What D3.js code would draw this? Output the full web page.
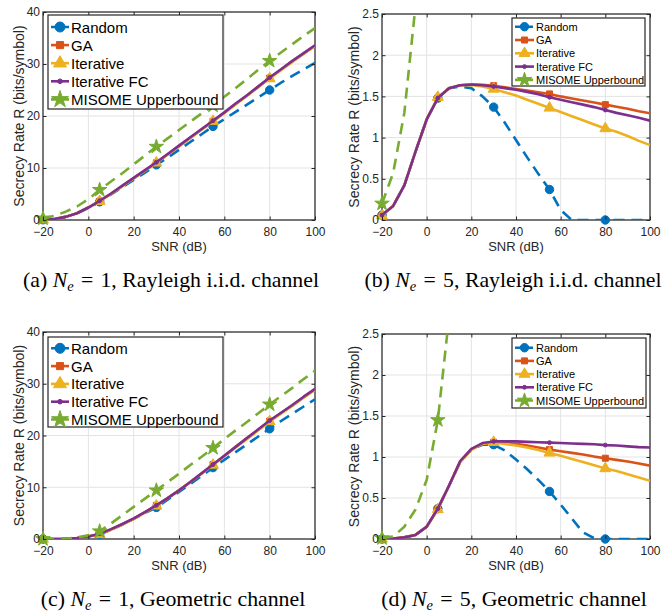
<!DOCTYPE html>
<html>
<head>
<meta charset="utf-8">
<script src="https://cdn.jsdelivr.net/npm/d3@7"></script>
<style>
  body { margin: 0; background: #fff; }
  svg { display: block; }
</style>
</head>
<body>
<div id="chart"></div>
<script>
// SNR sample points (dB)
const snr = [-20,-15,-10,-5,0,5,10,15,20,25,30,35,40,45,50,55,60,65,70,75,80,85,90,95,100];

// (a) Ne = 1, Rayleigh i.i.d.
const aRandom = [0.05,0.2,0.6,1.3,2.3,3.5,4.9,6.3,7.7,9.1,10.6,12.0,13.5,15.0,16.5,18.0,19.4,20.8,22.2,23.6,25.0,26.4,27.7,29.0,30.2];
const aGA     = [0.05,0.2,0.6,1.3,2.4,3.6,5.0,6.5,8.0,9.5,11.0,12.6,14.2,15.8,17.4,19.0,20.6,22.3,23.9,25.6,27.3,28.9,30.5,32.0,33.5];
const aIter   = [0.05,0.2,0.6,1.3,2.4,3.6,5.0,6.5,8.0,9.5,11.0,12.6,14.2,15.8,17.4,19.0,20.6,22.2,23.9,25.6,27.2,28.8,30.4,32.0,33.5];
const aFC     = [0.05,0.2,0.6,1.3,2.4,3.7,5.1,6.6,8.1,9.6,11.1,12.7,14.3,15.9,17.5,19.1,20.7,22.4,24.0,25.7,27.4,29.0,30.6,32.1,33.6];
const aMisome = [0.3,0.8,1.6,2.6,4.0,5.8,7.4,9.0,10.7,12.4,14.1,15.7,17.3,18.9,20.5,22.0,23.7,25.4,27.1,28.9,30.6,32.2,33.8,35.4,36.9];

// (b) Ne = 5, Rayleigh i.i.d.
const bRandom = [0.06,0.17,0.42,0.83,1.22,1.48,1.60,1.62,1.60,1.50,1.37,1.18,0.97,0.76,0.56,0.37,0.12,0,0,0,0,0,0,0,0];
const bGA     = [0.06,0.17,0.42,0.83,1.22,1.48,1.60,1.635,1.645,1.64,1.63,1.61,1.59,1.57,1.55,1.53,1.50,1.475,1.45,1.425,1.40,1.375,1.35,1.32,1.295];
const bIter   = [0.05,0.17,0.42,0.83,1.22,1.49,1.60,1.635,1.64,1.62,1.59,1.55,1.51,1.46,1.41,1.36,1.31,1.26,1.21,1.16,1.11,1.07,1.02,0.96,0.91];
const bFC     = [0.06,0.17,0.42,0.83,1.22,1.48,1.60,1.635,1.645,1.635,1.62,1.60,1.58,1.555,1.525,1.49,1.46,1.43,1.40,1.37,1.335,1.30,1.27,1.24,1.205];
const bMisome = [0.2,0.57,1.3,2.6,4.2];

// (c) Ne = 1, Geometric
const cRandom = [0,0,0.05,0.2,0.5,0.9,1.8,2.8,3.9,5.0,6.1,7.6,9.1,10.6,12.2,13.8,15.3,16.8,18.3,19.8,21.3,22.8,24.2,25.6,27.0];
const cGA     = [0,0,0.05,0.2,0.5,0.9,1.8,2.8,3.9,5.2,6.5,7.9,9.4,11.0,12.7,14.4,16.1,17.8,19.5,21.1,22.8,24.3,25.8,27.4,28.9];
const cIter   = [0,0,0.05,0.2,0.5,0.9,1.8,2.8,3.9,5.1,6.4,7.9,9.4,11.0,12.6,14.3,16.0,17.7,19.3,21.0,22.7,24.2,25.7,27.3,28.8];
const cFC     = [0,0,0.05,0.2,0.5,1.0,1.9,2.9,4.0,5.2,6.5,7.9,9.4,11.0,12.7,14.4,16.1,17.8,19.5,21.2,22.9,24.4,25.9,27.5,29.0];
const cMisome = [0,0,0.05,0.3,0.7,1.5,3.0,4.6,6.2,7.8,9.4,11.0,12.6,14.3,15.9,17.6,19.3,21.0,22.6,24.3,26.0,27.6,29.2,30.9,32.5];

// (d) Ne = 5, Geometric
const dRandom = [0,0.005,0.02,0.05,0.15,0.37,0.65,0.94,1.09,1.15,1.15,1.08,0.97,0.85,0.72,0.58,0.42,0.25,0.08,0.01,0,0,0,0,0];
const dGA     = [0,0.005,0.02,0.05,0.15,0.37,0.65,0.94,1.09,1.16,1.18,1.17,1.16,1.14,1.115,1.09,1.07,1.05,1.03,1.005,0.985,0.965,0.945,0.92,0.895];
const dIter   = [0,0.005,0.02,0.05,0.15,0.36,0.65,0.94,1.09,1.16,1.18,1.16,1.14,1.115,1.085,1.05,1.015,0.975,0.94,0.90,0.86,0.83,0.79,0.75,0.71];
const dFC     = [0,0.005,0.02,0.05,0.15,0.37,0.65,0.95,1.10,1.17,1.19,1.19,1.19,1.185,1.18,1.175,1.17,1.165,1.16,1.155,1.145,1.14,1.13,1.12,1.115];
const dMisome = [0.01,0.03,0.15,0.36,0.72,1.45,2.7];

const seriesNames  = ["Random", "GA", "Iterative", "Iterative FC", "MISOME Upperbound"];
const seriesColors = ["#0072BD", "#D95319", "#EDB120", "#7E2F8E", "#77AC30"];
const xTicks = [-20, 0, 20, 40, 60, 80, 100];
const yTicksN1 = [0, 10, 20, 30, 40];
const yTicksN5 = [0, 0.5, 1, 1.5, 2, 2.5];

// line / marker style per series
const dashes  = ["11,7", null, null, null, "11,7"];
const symbols = [d3.symbolCircle, d3.symbolSquare, d3.symbolTriangle, d3.symbolCircle, d3.symbolStar];
const symSize = [56, 36, 52, 12, 65];

const svg = d3.select("#chart").append("svg")
    .attr("width", 668)
    .attr("height", 612);

const panels = [
  {id: "a", L: 43, R: 315, T: 12, B: 220, yMax: 40, yTicks: yTicksN1,
   data: [aRandom, aGA, aIter, aFC, aMisome],
   leg: {x: 48, y: 15, w: 175, h: 94, fs: 15, row: 18.1, first: 27, line: 18, ms: 1.4},
   ylabX: 23.5, capX: 171, capY: 287, tag: "(a)", rest: " = 1, Rayleigh i.i.d. channel"},
  {id: "b", L: 382, R: 650, T: 14, B: 220, yMax: 2.5, yTicks: yTicksN5,
   data: [bRandom, bGA, bIter, bFC, bMisome],
   leg: {x: 512, y: 18, w: 133, h: 68, fs: 11, row: 13.3, first: 26.7, line: 19, ms: 1},
   ylabX: 358.5, capX: 513, capY: 287, tag: "(b)", rest: " = 5, Rayleigh i.i.d. channel"},
  {id: "c", L: 43, R: 315, T: 332, B: 539, yMax: 40, yTicks: yTicksN1,
   data: [cRandom, cGA, cIter, cFC, cMisome],
   leg: {x: 48, y: 337, w: 175, h: 90, fs: 15, row: 17.8, first: 348.3, line: 18, ms: 1.4},
   ylabX: 23.5, capX: 173, capY: 606, tag: "(c)", rest: " = 1, Geometric channel"},
  {id: "d", L: 382, R: 650, T: 334, B: 539, yMax: 2.5, yTicks: yTicksN5,
   data: [dRandom, dGA, dIter, dFC, dMisome],
   leg: {x: 512, y: 338, w: 134, h: 70, fs: 11, row: 13.2, first: 347.7, line: 19, ms: 1},
   ylabX: 358.5, capX: 514, capY: 606, tag: "(d)", rest: " = 5, Geometric channel"}
];

function drawPanel(p) {
  const x = d3.scaleLinear().domain([-20, 100]).range([p.L, p.R]);
  const y = d3.scaleLinear().domain([0, p.yMax]).range([p.B, p.T]);
  const g = svg.append("g");

  // grid
  g.selectAll(".gx").data(xTicks).enter().append("line")
      .attr("x1", d => x(d)).attr("x2", d => x(d))
      .attr("y1", p.T).attr("y2", p.B)
      .attr("stroke", "#e3e3e3").attr("stroke-width", 1);
  g.selectAll(".gy").data(p.yTicks).enter().append("line")
      .attr("x1", p.L).attr("x2", p.R)
      .attr("y1", d => y(d)).attr("y2", d => y(d))
      .attr("stroke", "#e3e3e3").attr("stroke-width", 1);

  // axes box
  g.append("rect")
      .attr("x", p.L).attr("y", p.T)
      .attr("width", p.R - p.L).attr("height", p.B - p.T)
      .attr("fill", "none").attr("stroke", "#262626").attr("stroke-width", 1.2);

  // clip for lines
  svg.append("clipPath").attr("id", "clip-" + p.id)
    .append("rect").attr("x", p.L).attr("y", p.T)
    .attr("width", p.R - p.L).attr("height", p.B - p.T);

  const line = d3.line().x(d => x(d[0])).y(d => y(d[1]));

  // each series: clipped line, then its markers (so later series sit on top)
  p.data.forEach((vals, i) => {
    const pts = vals.map((v, k) => [snr[k], v]);
    const sg = g.append("g");
    sg.append("path")
        .datum(pts)
        .attr("clip-path", `url(#clip-${p.id})`)
        .attr("d", line)
        .attr("fill", "none")
        .attr("stroke", seriesColors[i])
        .attr("stroke-width", 2.6)
        .attr("stroke-dasharray", dashes[i])
        .attr("stroke-linejoin", "round");
    const mk = pts.filter((d, k) => k % 5 === 0 && d[1] <= p.yMax);
    sg.selectAll(".m").data(mk).enter().append("path")
        .attr("transform", d => `translate(${x(d[0])},${y(d[1])})`)
        .attr("d", d3.symbol().type(symbols[i]).size(symSize[i]))
        .attr("fill", seriesColors[i])
        .attr("stroke", seriesColors[i])
        .attr("stroke-width", 1);
  });

  // inward ticks + labels
  const xAxB = d3.axisBottom(x).tickValues(xTicks).tickSize(-3.5).tickPadding(7).tickFormat(d3.format("d"));
  const xAxT = d3.axisTop(x).tickValues(xTicks).tickSize(-3.5).tickFormat("");
  const yAxL = d3.axisLeft(y).tickValues(p.yTicks).tickSize(-3.5).tickPadding(3).tickFormat(d => String(d));
  const yAxR = d3.axisRight(y).tickValues(p.yTicks).tickSize(-3.5).tickFormat("");

  [[xAxB, `translate(0,${p.B})`], [xAxT, `translate(0,${p.T})`],
   [yAxL, `translate(${p.L},0)`], [yAxR, `translate(${p.R},0)`]].forEach(([ax, tr]) => {
    const a = g.append("g").attr("transform", tr).call(ax);
    a.select(".domain").remove();
    a.selectAll("line").attr("stroke", "#262626");
    a.selectAll("text")
      .attr("fill", "#262626")
      .style("font-family", "'Liberation Sans', Arial, sans-serif")
      .style("font-size", "12px");
  });

  // axis labels
  g.append("text")
      .attr("x", (p.L + p.R) / 2).attr("y", p.B + 31)
      .attr("text-anchor", "middle")
      .attr("fill", "#262626")
      .style("font-family", "'Liberation Sans', Arial, sans-serif")
      .style("font-size", "13px")
      .text("SNR (dB)");
  g.append("text")
      .attr("transform", `translate(${p.ylabX},${(p.T + p.B) / 2}) rotate(-90)`)
      .attr("text-anchor", "middle")
      .attr("fill", "#262626")
      .style("font-family", "'Liberation Sans', Arial, sans-serif")
      .style("font-size", "14px")
      .text("Secrecy Rate R (bits/symbol)");

  // legend
  const L = p.leg;
  const lg = g.append("g");
  lg.append("rect")
      .attr("x", L.x).attr("y", L.y).attr("width", L.w).attr("height", L.h)
      .attr("fill", "#fff").attr("stroke", "#262626").attr("stroke-width", 1.2);
  seriesNames.forEach((name, i) => {
    const yy = L.first + i * L.row;
    const x0 = L.x + 3, x1 = x0 + L.line;
    lg.append("line")
        .attr("x1", x0).attr("x2", x1).attr("y1", yy).attr("y2", yy)
        .attr("stroke", seriesColors[i]).attr("stroke-width", 2.6)
        .attr("stroke-dasharray", dashes[i] ? "7,4" : null);
    lg.append("path")
        .attr("transform", `translate(${(x0 + x1) / 2},${yy})`)
        .attr("d", d3.symbol().type(symbols[i]).size(symSize[i] * L.ms))
        .attr("fill", seriesColors[i]).attr("stroke", seriesColors[i]);
    lg.append("text")
        .attr("x", x1 + 2).attr("y", yy)
        .attr("dominant-baseline", "central")
        .attr("fill", "#000")
        .style("font-family", "'Liberation Sans', Arial, sans-serif")
        .style("font-size", L.fs + "px")
        .text(name);
  });

  // caption
  const cap = svg.append("text")
      .attr("x", p.capX).attr("y", p.capY)
      .attr("text-anchor", "middle")
      .style("font-family", "'Liberation Serif', 'Times New Roman', serif")
      .style("font-size", "21.8px")
      .attr("fill", "#000");
  cap.append("tspan").text(p.tag + " ");
  cap.append("tspan").style("font-style", "italic").text("N");
  cap.append("tspan").style("font-style", "italic").style("font-size", "14.5px").attr("dy", 4).text("e");
  cap.append("tspan").attr("dy", -4).text(p.rest.replace(" = ", "\u2004=\u2004"));
}

panels.forEach(drawPanel);
</script>
</body>
</html>
